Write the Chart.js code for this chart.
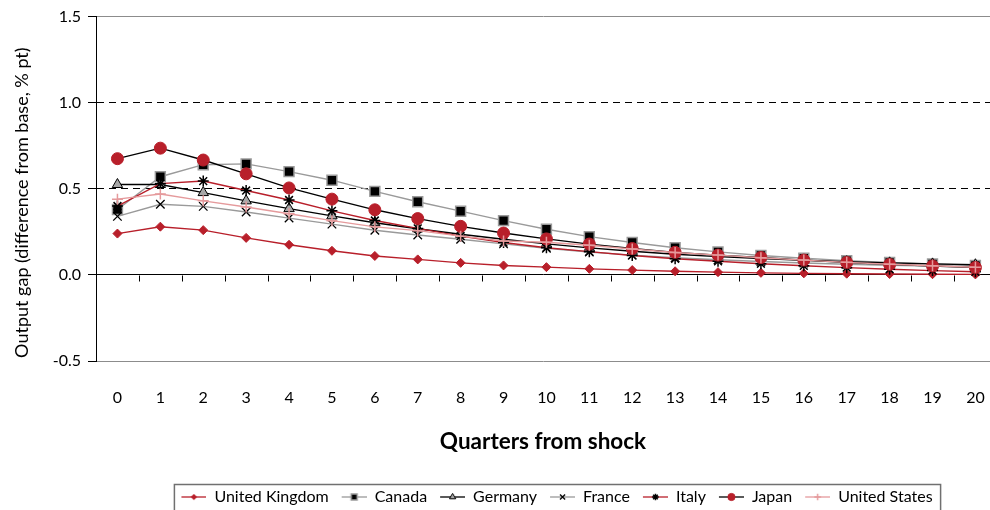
<!DOCTYPE html>
<html>
<head>
<meta charset="utf-8">
<script src="https://cdn.jsdelivr.net/npm/chart.js@4.4.1/dist/chart.umd.min.js"></script>
<style>
    html, body { margin: 0; padding: 0; background: #fff; overflow: hidden; }
    #wrap { width: 990px; height: 510px; }
</style>
</head>
<body>
<div id="wrap"><canvas id="gapChart" width="990" height="510"></canvas></div>
<script>
// Quarters after the shock
const quarters = ['0', '1', '2', '3', '4', '5', '6', '7', '8', '9', '10', '11', '12', '13', '14', '15', '16', '17', '18', '19', '20'];

// Output gap responses (difference from base, % pt)
const ukGap      = [0.24, 0.28, 0.26, 0.215, 0.175, 0.14, 0.11, 0.09, 0.07, 0.055, 0.045, 0.035, 0.028, 0.021, 0.016, 0.012, 0.009, 0.007, 0.005, 0.004, 0.003];
const canadaGap  = [0.38, 0.57, 0.64, 0.645, 0.60, 0.55, 0.485, 0.425, 0.37, 0.315, 0.265, 0.222, 0.188, 0.158, 0.134, 0.113, 0.097, 0.083, 0.072, 0.063, 0.055];
const germanyGap = [0.525, 0.525, 0.478, 0.43, 0.385, 0.343, 0.303, 0.268, 0.236, 0.207, 0.18, 0.157, 0.137, 0.12, 0.106, 0.095, 0.085, 0.077, 0.07, 0.064, 0.059];
const franceGap  = [0.34, 0.41, 0.398, 0.365, 0.33, 0.295, 0.259, 0.232, 0.207, 0.18, 0.155, 0.133, 0.115, 0.10, 0.088, 0.078, 0.069, 0.062, 0.056, 0.051, 0.047];
const italyGap   = [0.40, 0.53, 0.545, 0.49, 0.435, 0.372, 0.316, 0.27, 0.225, 0.188, 0.158, 0.135, 0.113, 0.094, 0.079, 0.065, 0.053, 0.042, 0.033, 0.025, 0.018];
const japanGap   = [0.675, 0.736, 0.667, 0.587, 0.505, 0.44, 0.378, 0.327, 0.282, 0.243, 0.209, 0.179, 0.153, 0.131, 0.115, 0.101, 0.086, 0.072, 0.061, 0.052, 0.043];
const usGap      = [0.44, 0.47, 0.43, 0.394, 0.355, 0.315, 0.279, 0.257, 0.225, 0.197, 0.19, 0.172, 0.15, 0.13, 0.115, 0.10, 0.086, 0.073, 0.062, 0.053, 0.044];

// Y axis ticks
const yTicks = [-0.5, 0.0, 0.5, 1.0, 1.5];

const RED = '#B81F2A';
const PINK = '#E59A9C';
const GREY = '#9A9A9A';
const FONT = 'Lato, "Open Sans", sans-serif';

const series = [
    { label: 'United Kingdom', data: ukGap,      line: RED,    style: 'rectRot',  r: 4.5, fill: RED,       edge: RED,    bw: 1 },
    { label: 'Canada',         data: canadaGap,  line: GREY,   style: 'rect',     r: 7,   fill: '#000',    edge: GREY,   bw: 1.5 },
    { label: 'Germany',        data: germanyGap, line: '#000', style: 'triangle', r: 6,   fill: '#A8A8A8', edge: '#000', bw: 1 },
    { label: 'France',         data: franceGap,  line: GREY,   style: 'crossRot', r: 6,   fill: '#000',    edge: '#000', bw: 1.3 },
    { label: 'Italy',          data: italyGap,   line: RED,    style: 'star',     r: 5.5, fill: '#000',    edge: '#000', bw: 1.5 },
    { label: 'Japan',          data: japanGap,   line: '#000', style: 'circle',   r: 6,   fill: RED,       edge: RED,    bw: 1 },
    { label: 'United States',  data: usGap,      line: PINK,   style: 'cross',    r: 5.5, fill: PINK,      edge: PINK,   bw: 1.5 }
];

// small line+marker icons for the legend (blank lead-in gives the gap between items)
const LEAD = 8;
const ICON_W = LEAD + 25;
const makeIcon = (s) => {
    const c = document.createElement('canvas');
    c.width = ICON_W;
    c.height = 14;
    const g = c.getContext('2d');
    g.strokeStyle = s.line;
    g.lineWidth = 1.3;
    g.beginPath();
    g.moveTo(LEAD, 7);
    g.lineTo(ICON_W, 7);
    g.stroke();
    g.fillStyle = s.fill;
    g.strokeStyle = s.edge;
    g.lineWidth = s.bw;
    if (Chart.helpers && Chart.helpers.drawPoint) {
        Chart.helpers.drawPoint(g, { pointStyle: s.style, radius: s.r * 0.6, rotation: 0, borderWidth: s.bw }, LEAD + 12.5, 7);
    }
    return c;
};

const datasets = series.map((s, i) => ({
    label: s.label,
    data: s.data,
    borderColor: s.line,
    borderWidth: 1.4,
    pointStyle: s.style,
    pointRadius: s.r,
    pointHoverRadius: s.r,
    pointBackgroundColor: s.fill,
    pointBorderColor: s.edge,
    pointBorderWidth: s.bw,
    tension: 0,
    fill: false,
    order: series.length - i
}));

const isDashed = (v) => Math.abs(v - 1) < 1e-6 || Math.abs(v - 0.5) < 1e-6;

// tick marks hanging under the zero line, between the quarters
const zeroTicks = {
    id: 'zeroTicks',
    beforeDatasetsDraw(chart) {
        const xs = chart.scales.x;
        const y0 = Math.round(chart.scales.y.getPixelForValue(0)) + 0.5;
        const ctx = chart.ctx;
        ctx.save();
        ctx.strokeStyle = '#000';
        ctx.lineWidth = 1;
        ctx.beginPath();
        for (let i = 0; i <= quarters.length; i++) {
            const px = Math.round(xs.getPixelForValue(i - 0.5)) + 0.5;
            ctx.moveTo(px, y0);
            ctx.lineTo(px, y0 + 6);
        }
        ctx.stroke();
        ctx.restore();
    }
};

// legend sits a bit right of centre in the original, inside a grey frame
const LEGEND_SHIFT = 58;
const legendFrame = {
    id: 'legendFrame',
    afterLayout(chart) {
        if (!chart.legend) return;
        chart.legend.left += LEGEND_SHIFT;
        chart.legend.right += LEGEND_SHIFT;
    },
    afterDraw(chart) {
        const lg = chart.legend;
        if (!lg || !lg.legendHitBoxes || !lg.legendHitBoxes.length) return;
        const boxes = lg.legendHitBoxes;
        const left = Math.min(...boxes.map(b => b.left)) + LEAD - 7;
        const right = Math.max(...boxes.map(b => b.left + b.width)) + 8;
        const ctx = chart.ctx;
        ctx.save();
        ctx.strokeStyle = '#707070';
        ctx.lineWidth = 1.5;
        ctx.strokeRect(left, lg.top + 0.5, right - left, 40);
        ctx.restore();
    }
};

new Chart(document.getElementById('gapChart').getContext('2d'), {
    type: 'line',
    data: { labels: quarters, datasets: datasets },
    plugins: [zeroTicks, legendFrame],
    options: {
        responsive: false,
        animation: false,
        layout: { autoPadding: false, padding: { top: 16, left: 0, right: 0, bottom: 0 } },
        scales: {
            x: {
                type: 'linear',
                position: 'bottom',
                min: -0.5,
                max: 20.34,
                afterBuildTicks: (s) => { s.ticks = quarters.map((q, i) => ({ value: i })); },
                grid: { display: false, drawTicks: false },
                border: { display: false },
                ticks: {
                    color: '#000',
                    padding: 27,
                    font: { family: FONT, size: 16 },
                    maxRotation: 0,
                    autoSkip: false,
                    callback: (v) => quarters[v]
                },
                title: {
                    display: true,
                    text: 'Quarters from shock',
                    color: '#000',
                    font: { family: FONT, size: 22.5, weight: 'bold' },
                    padding: { top: 0, bottom: 29 }
                },
                afterFit: (s) => { s.height = 123; s.paddingLeft = 0; s.paddingRight = 0; }
            },
            y: {
                min: -0.5,
                max: 1.5,
                afterBuildTicks: (s) => { s.ticks = yTicks.map(v => ({ value: v })); },
                grid: {
                    color: (ctx) => {
                        if (!ctx.tick) return GREY;
                        const v = ctx.tick.value;
                        if (Math.abs(v) < 1e-6) return '#000';
                        return isDashed(v) ? '#000' : '#8C8C8C';
                    },
                    lineWidth: 1,
                    drawTicks: true,
                    tickLength: 8,
                    tickColor: '#000'
                },
                border: {
                    display: true,
                    color: '#000',
                    width: 1,
                    dash: (ctx) => (ctx.tick && isDashed(ctx.tick.value)) ? [7, 5] : []
                },
                ticks: {
                    color: '#000',
                    padding: 7,
                    font: { family: FONT, size: 16 },
                    callback: (v) => Number(v).toFixed(1)
                },
                title: {
                    display: true,
                    text: 'Output gap (difference from base, % pt)      ',
                    color: '#000',
                    font: { family: FONT, size: 18 },
                    padding: { top: 11, bottom: 0 }
                },
                afterFit: (s) => { s.width = 96; }
            }
        },
        plugins: {
            tooltip: { enabled: false },
            legend: {
                position: 'bottom',
                maxHeight: 26,
                labels: {
                    usePointStyle: true,
                    pointStyleWidth: ICON_W,
                    padding: 5,
                    color: '#000',
                    font: { family: FONT, size: 16 },
                    generateLabels: (chart) => series.map((s, i) => ({
                        text: s.label,
                        pointStyle: makeIcon(s),
                        fillStyle: s.fill,
                        strokeStyle: s.edge,
                        lineWidth: 0,
                        hidden: false,
                        datasetIndex: i,
                        fontColor: '#000'
                    }))
                }
            }
        }
    }
});
</script>
</body>
</html>
